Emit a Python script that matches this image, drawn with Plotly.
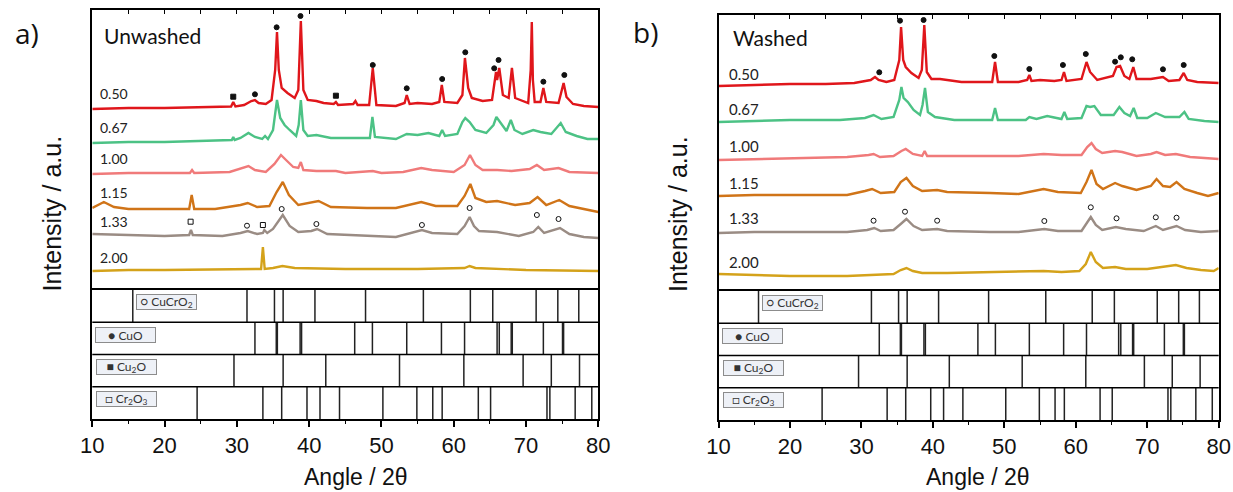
import plotly.graph_objects as go

# ---------------- data ----------------
ANGLE_RANGE = [10, 80]
SAMPLE_LABELS = ["0.50", "0.67", "1.00", "1.15", "1.33", "2.00"]
SAMPLE_COLORS = ["#e0161b", "#4cc285", "#f07a7a", "#d07418", "#9a8c84", "#d4a21a"]

# Panel a (Unwashed): (2theta, intensity a.u. incl. stacking offset)
A_050 = [(10,181),(15,182),(20,182),(25,182.5),(28.5,183),(29.2,183.5),(29.5,188),(29.8,183.5),(31,185),(32.0,189),(32.5,190),(33.0,187),(34.0,186),(34.8,190),(35.3,220),(35.55,258),(35.8,220),(36.2,202),(37,197),(38.0,192),(38.5,200),(38.85,269),(39.2,200),(39.8,190),(41,189),(42,187),(43.4,186),(43.7,188),(44,185),(46.1,186),(46.4,189),(46.7,185),(48.3,185),(48.8,222),(49.3,185),(52,184),(53.2,187),(53.5,195),(53.9,186),(55,187),(57,186),(58.0,188),(58.35,205),(58.7,188),(60.5,187),(61.2,195),(61.55,232),(62.0,202),(62.5,192),(64,189),(65.3,190),(65.85,218),(66.0,210),(66.3,222),(66.8,195),(67.6,192),(68.05,222),(68.5,192),(70.3,187),(70.65,220),(70.8,268),(70.95,210),(71.2,188),(72.0,188),(72.4,202),(72.8,188),(74.5,187),(75.2,207),(75.6,193),(76.5,186),(78,184),(80,183)]
A_067 = [(10,147),(15,148),(20,148),(25,149),(29.3,150),(29.5,153),(29.7,150),(30.5,152),(31.6,157),(32.5,153),(33.5,151),(33.9,154),(34.3,151),(35.0,160),(35.55,190),(36.0,172),(36.6,165),(37.3,160),(38.2,154),(38.55,165),(38.85,190),(39.2,160),(39.8,154),(41,155),(43,152),(46,152),(48.4,152),(48.75,173),(49.1,153),(52,151),(53.5,156),(55,155),(56.5,157),(58.0,154),(58.4,160),(58.8,154),(60.5,156),(61.2,168),(61.6,172),(62.2,168),(63,160),(64.5,157),(65.5,165),(65.9,173),(66.4,168),(67.3,159),(67.9,170),(68.4,160),(69.5,156),(71,160),(72,158),(73.5,156),(74.8,167),(75.5,158),(77,154),(78.5,151),(80,151)]
A_100 = [(10,116),(15,117),(20,117),(23.5,117),(23.8,120),(24.1,117),(29,118),(30.8,122),(31.6,124),(32.5,120),(34.0,118),(35.2,126),(36.1,135),(36.8,130),(37.8,123),(38.5,122),(38.85,128),(39.2,120),(41,119),(43.7,119),(45,117),(48.8,119),(50,117),(53,118),(55.5,122),(57,120),(60,118),(61.5,125),(62.25,135),(63,125),(64,120),(66,120),(68,119),(70.5,121),(71.5,125),(72.5,120),(74.5,122),(76,118),(80,117)]
A_115 = [(10,82),(11.6,88),(13,83),(15,81),(20,81),(23.4,81),(23.75,95),(24.1,81),(27,81),(30.5,85),(31.5,87),(32.8,83),(34.5,84),(35.5,98),(36.35,108),(37.2,95),(38.5,85),(40.5,88),(41.3,89),(43,83),(48,82),(52,82),(55.5,88),(57.5,84),(60.5,84),(61.5,94),(62.3,106),(63.0,92),(64.5,88),(66,89),(68.5,85),(70.5,87),(71.6,93),(72.8,85),(74.6,90),(76,84),(78,81),(80,78)]
A_133 = [(10,56),(15,55),(20,54),(23.4,55),(23.65,60),(23.9,55),(28,54),(30.5,57),(31.5,59),(32.8,56),(33.6,57),(33.8,60),(34.2,57),(35.0,61),(36.35,75),(37.3,64),(38.5,58),(40.3,59),(41.1,61),(42.5,56),(48,54),(52,53),(55.6,60),(57,57),(60.5,56),(61.5,64),(62.2,73),(62.8,64),(63.5,59),(66,58),(69,54),(71.0,58),(71.7,63),(72.5,57),(74.7,62),(76,56),(78,53),(80,52)]
A_200 = [(10,19),(15,20),(20,20),(28,21),(33.35,21),(33.6,43),(33.85,21),(35,22),(36.3,24),(38,22),(45,21),(55,21),(61.5,22),(62.2,24),(63,22),(70,20),(80,19)]

# Panel b (Washed)
B_050 = [(10,205),(15,206),(20,207),(25,207),(29,208),(31.3,211),(31.9,214),(32.4,211),(33.5,209),(34.6,211),(35.3,231),(35.55,264),(35.85,231),(36.2,224),(37.0,218),(38.0,213),(38.45,221),(38.8,266),(39.15,219),(39.8,212),(41,212),(44,209),(48.3,209),(48.7,229),(49.1,209),(52,209),(53.2,211),(53.5,216),(53.8,210),(55,211),(57,210),(58.0,211),(58.35,219),(58.7,210),(60.8,212),(61.5,229),(62.0,219),(63.0,211),(65.2,215),(65.7,224),(66.2,225),(66.8,215),(67.5,212),(68.05,224),(68.5,212),(70.5,212),(71.5,213),(72.2,214),(73,210),(74.5,211),(75.1,218),(75.6,211),(77,209),(80,208)]
B_067 = [(10,169),(15,170),(20,171),(27,171),(30.5,173),(31.7,176),(32.8,172),(34.5,174),(35.3,191),(35.6,204),(35.9,193),(36.5,189),(37.3,181),(38.2,176),(38.55,186),(38.9,203),(39.3,179),(40.3,174),(43,171),(48.3,171),(48.7,183),(49.1,171),(53,171),(53.5,174),(54.5,172),(56,175),(58.0,172),(58.4,179),(58.8,172),(60.8,173),(61.5,185),(62.0,184),(62.6,185),(63.5,176),(65.3,176),(66.1,184),(66.8,178),(67.6,175),(68.1,183),(68.6,173),(70,173),(71.2,178),(72.5,174),(74.5,174),(75.2,179),(75.8,172),(78,170),(80,169)]
B_100 = [(10,131),(15,132),(20,133),(28,134),(31.0,136),(31.7,137),(32.6,134),(34.5,135),(35.6,140),(36.2,142),(37.2,137),(38.5,135),(38.85,140),(39.2,135),(45,135),(52,135),(55.5,137),(58,136),(60.8,136),(61.6,144),(62.2,148),(62.8,142),(63.7,138),(65.5,140),(66.5,139),(68.5,135),(70.5,137),(71.3,139),(72.5,136),(74,137),(76,134),(80,132)]
B_115 = [(10,95),(15,96),(20,96),(28,96),(30.5,100),(31.5,102),(32.7,98),(34.6,99),(35.5,109),(36.3,113),(37.2,105),(38.5,100),(40.6,101),(42,99),(48,98),(52,97),(55.5,102),(57.5,99),(60.7,98),(61.5,109),(62.2,121),(62.9,107),(63.8,102),(65.5,108),(66.5,105),(68.5,101),(70.5,105),(71.3,112),(72.2,105),(73.2,104),(74.1,109),(75.2,102),(77,98),(78.5,95),(80,98)]
B_133 = [(10,58),(15,59),(20,59),(28,59),(30.8,61),(31.8,63),(32.7,60),(34.5,61),(35.5,67),(36.3,72),(37.3,65),(38.5,61),(40.6,62),(42,60),(48,59),(52,59),(55.6,62),(57.5,60),(60.8,60),(61.5,67),(62.1,74),(62.8,66),(63.7,61),(65.6,64),(67,62),(69.5,60),(71.2,65),(72.2,61),(74.1,65),(75.3,61),(77.5,59),(80,60)]
B_200 = [(10,17),(15,16),(20,15),(28,15),(31.5,16),(34.5,17),(35.5,21),(36.3,23),(37.2,20),(38.5,18),(42,18),(48,19),(52,19),(55.5,20),(58,19),(60.5,20),(61.4,27),(62.1,39),(62.8,29),(63.8,23),(65.5,24),(67,22),(70,22),(72,24),(74.0,26),(75.5,23),(77.5,21),(79.3,20),(80,23)]

# Label heights (intensity units) of the sample labels
A_LABEL_Y = [196, 162, 131, 97, 68, 33]
B_LABEL_Y = [217, 182, 145, 108, 73, 29]

# Phase markers
A_CUO_MARK = [(32.5,195.7),(35.5,262.7),(38.8,274),(48.8,225),(53.5,201.7),(58.4,211),(61.6,237.7),(65.6,221.7),(66.2,230),(72.4,208.3),(75.3,215)]
A_CU2O_MARK = [(29.5,193.3),(43.7,194.3)]
A_CR2O3_MARK = [(23.6,68.3),(33.6,65)]
A_CUCRO2_MARK = [(31.4,64.3),(36.2,81),(41.0,66),(55.6,65),(62.2,82),(71.5,75),(74.5,71)]
B_CUO_MARK = [(32.5,218.7),(35.4,270.3),(38.7,271),(48.6,235),(53.5,222),(58.2,226),(61.4,237),(65.5,229.3),(66.3,233.7),(67.9,231.7),(72.2,221.7),(75.1,226)]
B_CUCRO2_MARK = [(31.7,70.3),(36.1,79.3),(40.6,70.3),(55.6,70),(62.1,83.7),(65.7,72.7),(71.2,73.7),(74.1,73.3)]

# Reference patterns (2theta positions)
REF_CUCRO2 = [15.6, 31.4, 35.2, 36.4, 40.8, 47.8, 55.8, 62.3, 65.4, 71.4, 74.4, 77.3]
REF_CUO = [32.5, 35.45, 35.6, 38.75, 38.95, 46.3, 48.75, 53.5, 58.3, 61.5, 66.0, 66.3, 67.95, 68.1, 72.4, 75.05, 75.2]
REF_CU2O = [29.6, 36.4, 42.3, 52.5, 61.4, 69.6, 73.5, 77.4]
REF_CR2O3 = [24.5, 33.6, 36.2, 39.7, 41.5, 44.2, 50.2, 54.9, 57.1, 58.4, 63.4, 65.1, 72.9, 73.3, 76.8, 79.1]
REF_ROWS = [("○ CuCrO<sub>2</sub>", REF_CUCRO2, 3), ("● CuO", REF_CUO, 2),
            ("■ Cu<sub>2</sub>O", REF_CU2O, 1), ("□ Cr<sub>2</sub>O<sub>3</sub>", REF_CR2O3, 0)]
A_BOX_X = [16.0, 10.4, 10.5, 10.5]
B_BOX_X = [16.05, 10.45, 10.6, 10.6]

# ---------------- figure ----------------
W, H = 1233, 492
def fx(p): return p / W
def fy(p): return 1 - p / H

fig = go.Figure()

def xs(pts): return [p[0] for p in pts]
def ys(pts): return [p[1] for p in pts]

panels = [
    dict(series=[A_050, A_067, A_100, A_115, A_133, A_200], xs_ax="x3", ys_ax="y",
         xr_ax="x", yr_ax="y2", label_y=A_LABEL_Y, label_x=10.8, box_x=A_BOX_X,
         marks=[(A_CUO_MARK, "circle"), (A_CU2O_MARK, "square"),
                (A_CR2O3_MARK, "square-open"), (A_CUCRO2_MARK, "circle-open")],
         title="Unwashed", title_x=11.3, title_y=254, lfs=14),
    dict(series=[B_050, B_067, B_100, B_115, B_133, B_200], xs_ax="x4", ys_ax="y3",
         xr_ax="x2", yr_ax="y4", label_y=B_LABEL_Y, label_x=11.2, box_x=B_BOX_X,
         marks=[(B_CUO_MARK, "circle"), (B_CUCRO2_MARK, "circle-open")],
         title="Washed", title_x=11.75, title_y=254, lfs=15),
]

annotations = []
shapes = []
for P in panels:
    for pts, col in zip(P["series"], SAMPLE_COLORS):
        fig.add_trace(go.Scatter(x=xs(pts), y=ys(pts), mode="lines",
                                 line=dict(color=col, width=2.4), xaxis=P["xs_ax"],
                                 yaxis=P["ys_ax"], showlegend=False, hoverinfo="skip"))
    for pts, sym in P["marks"]:
        fig.add_trace(go.Scatter(x=xs(pts), y=ys(pts), mode="markers",
                                 marker=dict(symbol=sym, size=5, color="#111",
                                             line=dict(width=1, color="#111")),
                                 xaxis=P["xs_ax"], yaxis=P["ys_ax"], showlegend=False,
                                 hoverinfo="skip"))
    for lab, ly in zip(SAMPLE_LABELS, P["label_y"]):
        annotations.append(dict(x=P["label_x"], y=ly, xref=P["xs_ax"], yref=P["ys_ax"],
                                text=lab, showarrow=False, xanchor="left", yanchor="middle",
                                font=dict(family="Lato", size=P["lfs"], color="#222")))
    annotations.append(dict(x=P["title_x"], y=P["title_y"], xref=P["xs_ax"], yref=P["ys_ax"],
                            text=P["title"], showarrow=False, xanchor="left", yanchor="middle",
                            font=dict(family="Lato", size=21, color="#111")))
    # reference sticks
    for (name, pos, row), bx in zip(REF_ROWS, P["box_x"]):
        lx, ly = [], []
        for a in pos:
            lx += [a, a, None]
            ly += [row, row + 1, None]
        fig.add_trace(go.Scatter(x=lx, y=ly, mode="lines", line=dict(color="#222", width=1.5),
                                 xaxis=P["xr_ax"], yaxis=P["yr_ax"], showlegend=False,
                                 hoverinfo="skip"))
        annotations.append(dict(x=bx, y=row + 0.62, xref=P["xr_ax"], yref=P["yr_ax"],
                                text=name, showarrow=False, xanchor="left", yanchor="middle",
                                width=57, height=12, borderpad=1, borderwidth=1,
                                bordercolor="#8c8c8c", bgcolor="#eef1f7", align="center",
                                font=dict(family="Lato", size=12, color="#333")))
        if row > 0:
            shapes.append(dict(type="line", xref=P["xr_ax"] + " domain", yref=P["yr_ax"],
                               x0=0, x1=1, y0=row, y1=row, line=dict(color="black", width=1.5)))

# panel letters, axis titles
for txt, x, y in [("a)", 27, 33), ("b)", 646, 32)]:
    annotations.append(dict(x=fx(x), y=fy(y), xref="paper", yref="paper", text=txt,
                            xanchor="center", yanchor="middle", showarrow=False,
                            font=dict(family="Open Sans", size=28, color="#111")))
for x in [51.5, 678]:
    annotations.append(dict(x=fx(x), y=fy(214), xref="paper", yref="paper",
                            text="Intensity / a.u.", textangle=-90, showarrow=False,
                            xanchor="center", yanchor="middle",
                            font=dict(family="Arial", size=25, color="#111")))
for x in [356, 978]:
    annotations.append(dict(x=fx(x), y=fy(477), xref="paper", yref="paper",
                            text="Angle / 2θ", showarrow=False,
                            xanchor="center", yanchor="middle",
                            font=dict(family="Arial", size=23, color="#111")))

axis_line = dict(showline=True, linecolor="black", linewidth=1.5, showgrid=False,
                 zeroline=False, automargin=False)
def bottom_x(domain, anchor):
    return dict(domain=domain, anchor=anchor, range=ANGLE_RANGE, mirror=True,
                ticks="outside", ticklen=6, tickwidth=1.5, tickcolor="black",
                tick0=10, dtick=10,
                minor=dict(ticks="outside", ticklen=3, tickwidth=1.2, dtick=5, tick0=10,
                           tickcolor="black"),
                tickfont=dict(family="Arial", size=22, color="#111"), **axis_line)
def top_x(domain, anchor, match):
    return dict(domain=domain, anchor=anchor, range=ANGLE_RANGE, side="top", matches=match,
                ticks="inside", ticklen=4, tickwidth=1.3, tickcolor="black", tick0=10,
                dtick=5, showticklabels=False, **axis_line)
def y_ax(domain, anchor, rng):
    return dict(domain=domain, anchor=anchor, range=rng, mirror=True, ticks="",
                showticklabels=False, **axis_line)

dom_a = [fx(92.3), fx(598.3)]
dom_b = [fx(718.5), fx(1218.7)]

fig.update_layout(
    template="none",
    width=W, height=H, margin=dict(l=0, r=0, t=0, b=0, pad=0), autosize=False,
    paper_bgcolor="white", plot_bgcolor="white", showlegend=False,
    xaxis=bottom_x(dom_a, "y2"),
    xaxis2=bottom_x(dom_b, "y4"),
    xaxis3=top_x(dom_a, "y", "x"),
    xaxis4=top_x(dom_b, "y3", "x2"),
    yaxis=y_ax([fy(290), fy(10)], "x3", [0, 280]),
    yaxis2=y_ax([fy(419), fy(290)], "x", [0, 4]),
    yaxis3=y_ax([fy(291), fy(15)], "x4", [0, 276]),
    yaxis4=y_ax([fy(420), fy(291)], "x2", [0, 4]),
    annotations=annotations, shapes=shapes,
)

fig.write_html("out.html")
